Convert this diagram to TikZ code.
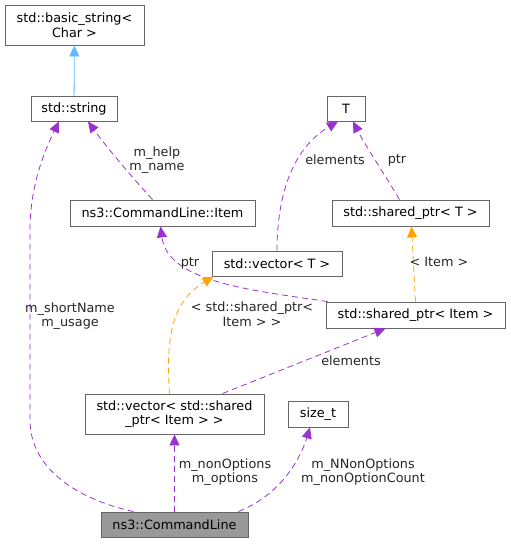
\documentclass[tikz,border=0pt]{standalone}
\usepackage{fontspec}
\setmainfont{DejaVu Sans}
\usetikzlibrary{
    arrows.meta,
    positioning
}
\definecolor{usage purple}{HTML}{9A32CD}
\definecolor{template orange}{HTML}{FFA500}
\definecolor{inherit blue}{HTML}{63B8FF}
\definecolor{box border}{HTML}{666666}
\definecolor{focus fill}{HTML}{999999}
\tikzset{
    % Boxes
    class box/.style={draw=box border,line width=0.9pt,fill=white,inner sep=2pt,minimum height=26pt,align=center},
    focus box/.style={class box,fill=focus fill},
    %
    % Arrows
    arrow tip/.tip={Triangle[length=11pt,width=10pt]},
    arr/.style={->,>={arrow tip},line width=0.8pt},
    member edge/.style={arr,usage purple,dashed,dash pattern=on 6pt off 4pt},
    template edge/.style={arr,template orange,dashed,dash pattern=on 6pt off 4pt},
    inherit edge/.style={arr,inherit blue},
    %
    % Labels
    edge label/.style={align=center,inner sep=0pt,text=black!85}
}
\tikzstyle{every node}=[font=\fontsize{12.8}{14.6}\selectfont]

\begin{document}
\begin{tikzpicture}[x=1pt,y=-1pt]
        \useasboundingbox (0,0) rectangle (511,544);
        % classes
        \node[class box,minimum width=139pt,minimum height=40pt] (basicstring) at (74.5,25) {std::basic\_string<\\Char >};
        \node[class box,minimum width=86pt,minimum height=25pt] (string) at (74,108.5) {std::string};
        \node[class box,minimum width=38pt,minimum height=25pt] (T) at (346,108.5) {T};
        \node[class box,minimum width=185pt] (item) at (162.5,213) {ns3::CommandLine::Item};
        \node[class box,minimum width=157pt] (sptrT) at (410.5,213) {std::shared\_ptr< T >};
        \node[class box,minimum width=130pt,minimum height=25pt] (vecT) at (277,263.5) {std::vector< T >};
        \node[class box,minimum width=179pt] (sptrItem) at (415.5,315) {std::shared\_ptr< Item >};
        \node[class box,minimum width=179pt,minimum height=40pt] (vecSptr) at (174.5,414) {std::vector< std::shared\\\_ptr< Item > >};
        \node[class box,minimum width=60pt] (sizet) at (318,414) {size\_t};
        \node[focus box,minimum width=147pt,minimum height=25pt] (cmdline) at (174.5,524.5) {ns3::CommandLine};

        % relations
        \draw[inherit edge] (string) -- (basicstring);
        \draw[member edge] ([xshift=-41pt]cmdline.north) .. controls (80,500) and (30,470) .. (30,420)
            -- (30,230) .. controls (30,185) and (45,150) .. ([xshift=-15pt]string.south);
        \draw[member edge] ([xshift=-10pt]item.north) .. controls (130,175) and (105,145) .. ([xshift=14pt]string.south);
        \draw[member edge] (vecT.north) .. controls (277,200) and (290,150) .. ([xshift=-8pt]T.south);
        \draw[member edge] ([xshift=-11pt]sptrT.north) .. controls (385,175) and (365,145) .. ([xshift=7pt]T.south);
        \draw[member edge] ([xshift=2pt]sptrItem.north west) .. controls (250,290) and (168,282) .. ([xshift=-2pt]item.south);
        \draw[template edge] (sptrItem.north) -- ([xshift=1pt]sptrT.south);
        \draw[template edge] ([xshift=-5pt]vecSptr.north) .. controls (165,330) and (175,300) .. ([xshift=2pt]vecT.south west);
        \draw[member edge] ([xshift=48pt]vecSptr.north) -- ([xshift=-30pt]sptrItem.south);
        \draw[member edge] (cmdline.north) -- (vecSptr.south);
        \draw[member edge] ([xshift=64pt]cmdline.north) .. controls (280,495) and (300,460) .. ([xshift=-8pt]sizet.south);

        % labels
        \node[edge label] (lshort) at (70,316) {m\_shortName\\m\_usage};
        \node[edge label] (lhelp) at (157,160) {m\_help\\m\_name};
        \node[edge label] (lelemT) at (335,160) {elements};
        \node[edge label] (lptrT) at (397,160) {ptr};
        \node[edge label] (lptrItem) at (190,263) {ptr};
        \node[edge label] (litem) at (439,262) {< Item >};
        \node[edge label] (lsptr) at (252,314) {< std::shared\_ptr<\\Item > >};
        \node[edge label] (lelemItem) at (351,361) {elements};
        \node[edge label] (lopts) at (225,472) {m\_nonOptions\\m\_options};
        \node[edge label] (lcount) at (363,472) {m\_NNonOptions\\m\_nonOptionCount};
\end{tikzpicture}
\end{document}
